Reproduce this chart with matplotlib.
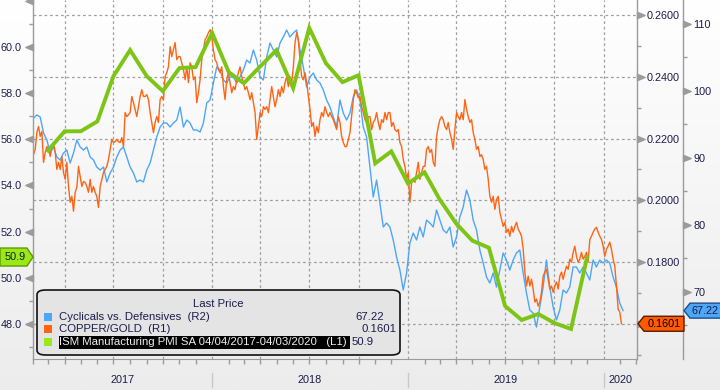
import numpy as np
import pandas as pd
import matplotlib
matplotlib.use('Agg')
import matplotlib.pyplot as plt
import matplotlib.dates as mdates
from matplotlib.path import Path
from matplotlib.patches import FancyBboxPatch, Polygon, Rectangle
from matplotlib.transforms import blended_transform_factory, IdentityTransform
from matplotlib.colors import LinearSegmentedColormap

plt.rcParams['font.family'] = ['Liberation Sans', 'DejaVu Sans']

# ---------------- data ----------------
# COPPER/GOLD (R1), roughly every 3 days
copper_gold = [
    .2148, .2165, .2219, .2239, .2207, .2223, .2123, .2155, .2174, .2165,
    .2142, .2174, .2187, .2155, .2100, .2123, .2100, .2142, .2090, .2068,
    .2123, .2045, .1994, .2013, .1965, .2026, .2042, .2110, .2077, .2045,
    .2061, .2058, .2045, .2026, .2068, .2026, .2045, .2026, .2013, .1977,
    .2045, .2068, .2090, .2100, .2110, .2132, .2165, .2197, .2187, .2190,
    .2197, .2190, .2187, .2203, .2174, .2284, .2271, .2277, .2284, .2336,
    .2316, .2294, .2271, .2303, .2336, .2358, .2336, .2336, .2342, .2326,
    .2284, .2252, .2219, .2252, .2271, .2252, .2326, .2336, .2326, .2400,
    .2413, .2432, .2497, .2465, .2487, .2510, .2455, .2465,
    .2465, .2445, .2423, .2390, .2432, .2381, .2445, .2432, .2390, .2400,
    .2316, .2348, .2390, .2455, .2487, .2519, .2529, .2542, .2552, .2529,
    .2487, .2455, .2445, .2423, .2413, .2432, .2368, .2326, .2390, .2413,
    .2381, .2348, .2368, .2358, .2390, .2413, .2432, .2400, .2381, .2358,
    .2368, .2348, .2326, .2348, .2316, .2284, .2197, .2239, .2284, .2271,
    .2303, .2294, .2303, .2284, .2326, .2368, .2336, .2303, .2326, .2358,
    .2336, .2368, .2348, .2381, .2400, .2368, .2400, .2381, .2432, .2510,
    .2542, .2519, .2455, .2400, .2390, .2413, .2381, .2336, .2294, .2239,
    .2252, .2207, .2239, .2219, .2261, .2284, .2271, .2303, .2284, .2271,
    .2284, .2271, .2261, .2245, .2229, .2271, .2252, .2207, .2187, .2174,
    .2174, .2197, .2219, .2271, .2326, .2358, .2348, .2332, .2336, .2303,
    .2284, .2261, .2252, .2271, .2271, .2229, .2252, .2261, .2284, .2252,
    .2229, .2261, .2252, .2284, .2261, .2284, .2284, .2239, .2252, .2229,
    .2223, .2229, .2187, .2174, .2132, .2110, .2068, .2090, .1994, .2058,
    .2068, .2058, .2090, .2123, .2068, .2090, .2110, .2110, .2165, .2174,
    .2155, .2165, .2123, .2110, .2207, .2239, .2261, .2271, .2261, .2239,
    .2229, .2252, .2219, .2197, .2165, .2229, .2284, .2271, .2261, .2284,
    .2261, .2326, .2294, .2271, .2252, .2261, .2219, .2197, .2165, .2174,
    .2142, .2148, .2132, .2100, .2110, .2068, .2013, .1994, .2013, .1971,
    .2003, .2013, .1961, .1939, .1916, .1929, .1897, .1907, .1884, .1916,
    .1897, .1916, .1929, .1907, .1897, .1884, .1842, .1768, .1723, .1755,
    .1723, .1745, .1713, .1671, .1681, .1658, .1671, .1703, .1755, .1768,
    .1777, .1745, .1713, .1723, .1703, .1723, .1736, .1713, .1755, .1768,
    .1745, .1768, .1787, .1777, .1810, .1800, .1832, .1852, .1819, .1800,
    .1810, .1832, .1810, .1819, .1832, .1800, .1874, .1884, .1897, .1907,
    .1913, .1897, .1884, .1874, .1852, .1819, .1842, .1852, .1865, .1842,
    .1810, .1787, .1723, .1648, .1639, .1601,
]
copper_dates = pd.date_range('2017-02-02', '2020-02-03', periods=len(copper_gold))

# Cyclicals vs. Defensives (R2), roughly weekly
cyc_def = [
    95.97, 96.42, 96.12, 93.73, 92.68, 90.74, 91.64, 90.15, 89.70, 90.74,
    91.19, 89.25, 90.74, 92.68, 91.64, 91.19, 91.64, 90.15, 89.70, 88.65,
    88.21, 88.65, 86.42, 87.76, 88.65, 90.15, 91.19, 91.64, 90.15, 88.65,
    87.76, 86.42, 86.71, 86.42, 88.21, 89.25, 91.19, 93.13, 94.62, 95.22,
    95.22, 94.62, 95.22, 95.67,
    97.61, 94.62, 95.67, 95.22, 94.18, 94.18, 93.88, 95.22, 98.21, 98.65,
    101.19, 103.58, 103.13, 101.64, 101.19, 102.09, 102.09, 101.19, 102.09, 103.13,
    104.62, 104.18, 106.12, 104.62, 102.09, 101.64, 105.07, 107.16, 106.12, 105.07,
    107.16, 108.06, 109.10, 108.06, 108.65, 109.10, 106.12, 103.58, 100.59, 102.09,
    102.68, 101.64, 101.19, 100.15, 98.65,
    97.61, 96.12, 94.62, 98.65, 96.71, 95.67, 96.71, 99.10, 100.15, 98.65,
    94.62, 93.13, 88.65, 84.18, 86.71, 83.28, 79.70, 80.30, 79.70, 77.76,
    75.22, 73.28, 70.30, 72.83, 77.31, 78.80, 77.76, 79.70, 78.21, 80.74,
    80.30, 79.70, 82.24, 80.74, 79.25, 78.80, 79.70, 76.71, 78.21, 81.19,
    82.68, 85.22, 83.73, 80.74, 79.25,
    76.27, 74.33, 72.24, 71.34, 72.83, 70.74, 73.28, 75.82, 74.77, 73.28,
    74.77, 75.82, 76.27, 72.83, 69.85, 67.31, 66.86, 64.77, 67.76, 70.74,
    74.77, 70.74, 67.76, 65.82, 67.31, 70.30, 69.85, 70.74, 73.73, 73.73,
    72.83, 73.73, 72.83, 71.79, 74.77, 73.73, 74.77, 74.33, 74.77, 74.33,
    72.24, 70.74, 68.36, 67.22,
]
cyc_dates = pd.date_range('2017-02-02', '2020-02-06', periods=len(cyc_def))

# ISM Manufacturing PMI (L1), monthly
ism = [55.52, 56.35, 56.35, 56.78, 58.74, 59.87, 58.74, 58.09, 59.09, 59.13,
       60.61, 58.91, 58.43, 59.17, 59.87, 58.22, 60.83, 59.30, 58.48, 58.78,
       54.96, 55.48, 54.09, 54.57, 53.40, 52.35, 51.61, 51.30, 48.78, 48.17,
       48.43, 48.04, 47.78, 50.90]
ism_dates = pd.date_range('2017-03-01', periods=len(ism), freq='MS')

series_names = ['Cyclicals vs. Defensives  (R2)', 'COPPER/GOLD  (R1)',
                'ISM Manufacturing PMI SA 04/04/2017-04/03/2020   (L1)']
last_values = ['67.22', '0.1601', '50.9']
years = [2017, 2018, 2019, 2020]

# ---------------- styling ----------------
BLUE = '#4ea6f7'
ORANGE = '#ff6414'
GREEN = '#7cc516'
LIME = '#99e81a'
GREY = '#9b9b9b'
TXT = '#1c1c4a'

W, H = 720, 390
fig = plt.figure(figsize=(W / 100, H / 100), dpi=100)

# soft vertical gradient background
bg = fig.add_axes([0, 0, 1, 1], zorder=-5)
bg.imshow(np.linspace(0, 1, 256).reshape(-1, 1), aspect='auto', extent=[0, 1, 0, 1],
          cmap=LinearSegmentedColormap.from_list('bg', ['#ffffff', '#ececec']))
bg.axis('off')

rect = [33 / W, 1 - 359 / H, (637 - 33) / W, 359 / H]
xmin, xmax = pd.Timestamp('2017-02-01'), pd.Timestamp('2020-03-03')
lim_l = (46.48, 62.04)
lim_r1 = (0.1487, 0.2648)
lim_r2 = (60.0, 113.58)

# grid layer (follows R1 ticks + quarters)
axg = fig.add_axes(rect, zorder=0)
axg.patch.set_visible(False)
axg.set_xlim(xmin, xmax)
axg.set_ylim(*lim_r1)
axg.set_yticks(np.arange(0.16, 0.2601, 0.02))
axg.set_xticks(pd.date_range('2017-04-01', '2020-01-01', freq='QS'))
axg.grid(True, color='#a0a0a0', ls=(0, (2.2, 2.2)), lw=0.9)
axg.tick_params(length=0, labelleft=False, labelbottom=False)
for s in axg.spines.values():
    s.set_visible(False)

axb = fig.add_axes(rect, zorder=1)
axo = fig.add_axes(rect, zorder=2)
axl = fig.add_axes(rect, zorder=3)
for a in (axb, axo, axl):
    a.patch.set_visible(False)
    for s in a.spines.values():
        s.set_visible(False)
    a.set_xlim(xmin, xmax)

axb.plot(cyc_dates, cyc_def, color=BLUE, lw=1.0)
axo.plot(copper_dates, copper_gold, color=ORANGE, lw=1.0)
axl.plot(ism_dates, ism, color=GREEN, lw=2.8, solid_joinstyle='miter')

axb.set_ylim(*lim_r2)
axo.set_ylim(*lim_r1)
axl.set_ylim(*lim_l)
for a in (axb, axo, axl):
    a.set_xlim(xmin, xmax)

tri_r = Path([(0, -0.42), (1, 0), (0, 0.42), (0, -0.42)],
             [Path.MOVETO, Path.LINETO, Path.LINETO, Path.CLOSEPOLY])
tri_l = Path([(0, -0.42), (-1, 0), (0, 0.42), (0, -0.42)],
             [Path.MOVETO, Path.LINETO, Path.LINETO, Path.CLOSEPOLY])

def style_y(ax, side, spine_pos, majors, minors, fmt, pad, tri_ticks, tri):
    sp = ax.spines[side]
    sp.set_visible(True)
    sp.set_color(GREY)
    sp.set_linewidth(1.0)
    if spine_pos is not None:
        sp.set_position(('axes', spine_pos))
    if side == 'right':
        ax.yaxis.tick_right()
    else:
        ax.yaxis.tick_left()
    ax.set_yticks(majors)
    ax.set_yticklabels([fmt % v for v in majors])
    ax.set_yticks(minors, minor=True)
    ax.tick_params(axis='y', which='major', length=0, pad=pad, labelsize=7.8,
                   labelcolor=TXT)
    ax.tick_params(axis='y', which='minor', length=3, width=1.0, color=GREY,
                   direction='out')
    ax.tick_params(axis='x', which='both', length=0, labelbottom=False)
    xpos = 0 if side == 'left' else (spine_pos if spine_pos is not None else 1)
    tr = blended_transform_factory(ax.transAxes, ax.transData)
    ax.plot(np.full(len(tri_ticks), xpos), tri_ticks, transform=tr, ls='none',
            marker=tri, ms=11, color=GREY, mec=GREY, clip_on=False)

style_y(axl, 'left', None, np.arange(48, 60.1, 2), np.arange(47, 61.1, 2),
        '%.1f', 8, np.arange(48, 62.1, 2), tri_l)
style_y(axo, 'right', None, np.arange(0.16, 0.2601, 0.02),
        np.arange(0.15, 0.2501, 0.02), '%.4f', 7.2,
        np.arange(0.16, 0.2601, 0.02), tri_r)
off = 1 + 46 / (637 - 33)
style_y(axb, 'right', off, np.arange(70, 110.1, 10), np.arange(65, 105.1, 10),
        '%d', 7.2, np.arange(70, 110.1, 10), tri_r)

# x axis on the left-axis layer
axl.spines['bottom'].set_visible(True)
axl.spines['bottom'].set_color(GREY)
axl.xaxis.set_major_locator(mdates.YearLocator())
axl.xaxis.set_minor_locator(mdates.MonthLocator())
axl.tick_params(axis='x', which='major', length=0, labelbottom=False)
axl.tick_params(axis='x', which='minor', length=3.5, width=1.0, color=GREY,
                direction='out')
trx = blended_transform_factory(axl.transData, axl.transAxes)
for y in years:
    start = max(pd.Timestamp(f'{y}-01-01'), xmin)
    end = min(pd.Timestamp(f'{y + 1}-01-01'), xmax)
    mid = start + (end - start) / 2
    axl.text(mid, -21 / 359, str(y), transform=trx, ha='center', va='center',
             fontsize=7.8, color=TXT)
    if y > years[0]:
        d = pd.Timestamp(f'{y}-01-01')
        axl.plot([d, d], [-14 / 359, -28 / 359], transform=trx, color='#c9c9c9',
                 lw=1.0, clip_on=False)
axl.set_xlim(xmin, xmax)

# ---------------- last value tags ----------------
def px_y(ax, v):
    return ax.transData.transform((0, v))[1]

def tag(pts, fc, ec, text, tx, ty, tcolor):
    fig.add_artist(Polygon(pts, closed=True, fc=fc, ec=ec, lw=1.0,
                           transform=IdentityTransform(), zorder=20))
    fig.text(tx / W, ty / H, text, ha='center', va='center', fontsize=7.8,
             color=tcolor, zorder=21)

yg = px_y(axl, ism[-1])
tag([(0, yg - 9), (27, yg - 9), (33, yg), (27, yg + 9), (0, yg + 9)],
    LIME, '#5f9a00', last_values[2], 15, yg, '#1a1a1a')
yo = px_y(axo, copper_gold[-1])
tag([(638, yo), (644, yo - 7.5), (684, yo - 7.5), (684, yo + 7.5), (644, yo + 7.5)],
    '#ff5a00', '#5a1a00', last_values[1], 664, yo, '#000000')
yb = px_y(axb, cyc_def[-1])
tag([(684, yb), (690, yb - 7.5), (722, yb - 7.5), (722, yb + 7.5), (690, yb + 7.5)],
    BLUE, '#1b4f8a', last_values[0], 705, yb, TXT)

# ---------------- legend box ----------------
def fy(top_px):
    return (H - top_px) / H

fig.add_artist(FancyBboxPatch((37 / W, fy(355)), (400 - 37) / W, (355 - 290) / H,
                              boxstyle='round,pad=0,rounding_size=0.012',
                              fc='#e4e4e4', ec='#111111', lw=1.2,
                              transform=fig.transFigure, zorder=15))
fig.text(218 / W, fy(304), 'Last Price', ha='center', va='center', fontsize=8.2,
         color=TXT, zorder=16)
fig.add_artist(Rectangle((59 / W, fy(349)), (350 - 59) / W, 13 / H, fc='black',
                         ec='none', transform=fig.transFigure, zorder=16))
row_y = [317, 329, 342]
row_c = [BLUE, ORANGE, LIME]
row_tc = [TXT, TXT, '#eeeeee']
val_x = [355, 362, 352]
for name, val, yy, c, tc, vx in zip(series_names, last_values[:2] + [last_values[2]],
                                     row_y, row_c, row_tc, val_x):
    fig.add_artist(Rectangle((44 / W, fy(yy + 4)), 8 / W, 8 / H, fc=c, ec='none',
                             transform=fig.transFigure, zorder=17))
    fig.text(59 / W, fy(yy), name, ha='left', va='center', fontsize=8.2,
             color=tc, zorder=17)
    fig.text(vx / W, fy(yy), val, ha='left', va='center', fontsize=8.2,
             color=TXT, zorder=17)

fig.savefig('out.png', dpi=100)
